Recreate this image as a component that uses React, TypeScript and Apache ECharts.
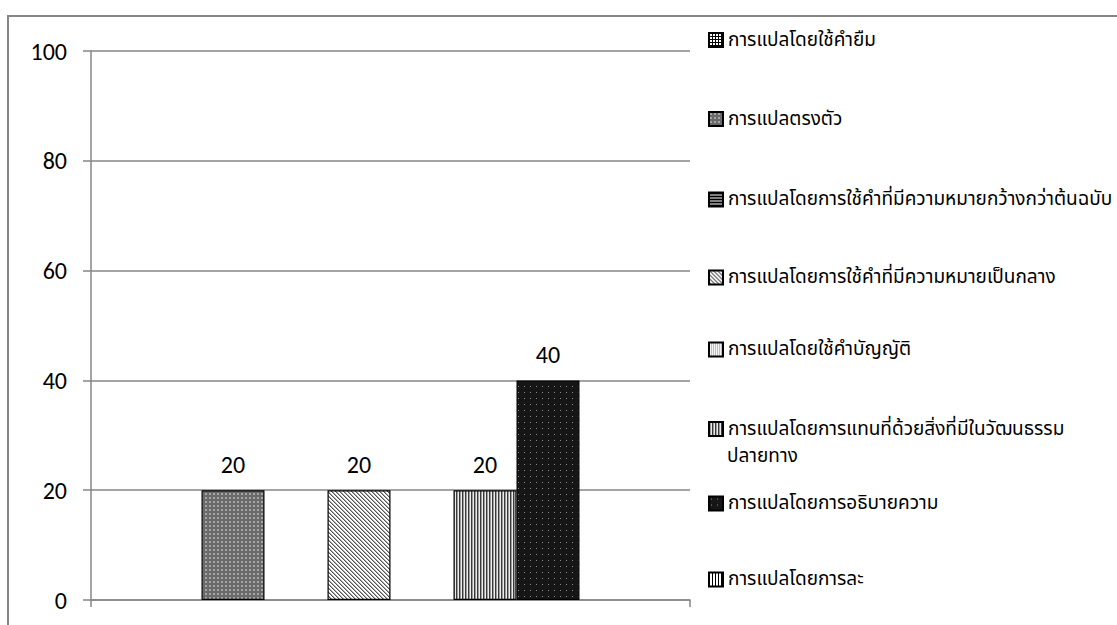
import React, { useEffect, useRef } from 'react';
import * as echarts from 'echarts';

const categories: string[] = [''];
const seriesNames: string[] = [
  'การแปลโดยใช้คำยืม',
  'การแปลตรงตัว',
  'การแปลโดยการใช้คำที่มีความหมายกว้างกว่าต้นฉบับ',
  'การแปลโดยการใช้คำที่มีความหมายเป็นกลาง',
  'การแปลโดยใช้คำบัญญัติ',
  'การแปลโดยการแทนที่ด้วยสิ่งที่มีในวัฒนธรรมปลายทาง',
  'การแปลโดยการอธิบายความ',
  'การแปลโดยการละ',
];
// legend wraps the 6th name onto two lines
const wrappedFirst = 'การแปลโดยการแทนที่ด้วยสิ่งที่มีในวัฒนธรรม';
const wrappedSecond = 'ปลายทาง';
const seriesValues: (number | null)[] = [null, 20, null, 20, null, 20, 40, null];
const yMin = 0;
const yMax = 100;
const yInterval = 20;

const thaiFont = "Tahoma, 'Noto Sans Thai', 'Leelawadee UI', 'Noto Sans', 'DejaVu Sans', sans-serif";
const numFont = "Carlito, Calibri, Lato, 'Open Sans', sans-serif";

function mk(w: number, h: number, draw: (ctx: CanvasRenderingContext2D) => void) {
  const c = document.createElement('canvas');
  c.width = w;
  c.height = h;
  const ctx = c.getContext('2d') as CanvasRenderingContext2D;
  draw(ctx);
  return { image: c, repeat: 'repeat', imageWidth: w, imageHeight: h } as any;
}

function px(ctx: CanvasRenderingContext2D, x: number, y: number, color: string, w = 1, h = 1) {
  ctx.fillStyle = color;
  ctx.fillRect(x, y, w, h);
}

function makePatterns() {
  return [
    // grid
    mk(3, 3, (c) => {
      px(c, 0, 0, '#fff', 3, 3);
      px(c, 0, 0, '#000', 3, 1);
      px(c, 0, 0, '#000', 1, 3);
    }),
    // gray with light dots
    mk(4, 4, (c) => {
      px(c, 0, 0, '#6a6a6a', 4, 4);
      px(c, 1, 1, '#a5a5a5', 2, 2);
    }),
    // horizontal lines
    mk(3, 3, (c) => {
      px(c, 0, 0, '#000', 3, 2);
      px(c, 0, 2, '#fff', 3, 1);
    }),
    // diagonal
    mk(4, 4, (c) => {
      px(c, 0, 0, '#ffffff', 4, 4);
      for (let k = 0; k < 4; k++) {
        px(c, k, k, '#555');
        px(c, (k + 1) % 4, k, '#aaa');
      }
    }),
    // light dotted
    mk(2, 2, (c) => {
      px(c, 0, 0, '#f2f2f2', 2, 2);
      px(c, 0, 0, '#8a8a8a');
    }),
    // vertical stripes (gray)
    mk(3, 1, (c) => {
      px(c, 0, 0, '#3a3a3a');
      px(c, 1, 0, '#9c9c9c');
      px(c, 2, 0, '#ececec');
    }),
    // black with dots
    mk(6, 6, (c) => {
      px(c, 0, 0, '#161616', 6, 6);
      px(c, 2, 2, '#8a8a8a');
    }),
    // vertical lines
    mk(3, 1, (c) => {
      px(c, 0, 0, '#000');
      px(c, 1, 0, '#fff', 2, 1);
    }),
  ];
}

const legendCenters = [40, 119, 199.5, 277.5, 349.5, 429, 503.5, 579.5];

export default function App() {
  const ref = useRef<HTMLDivElement>(null);
  useEffect(() => {
    if (!ref.current) return;
    const chart = echarts.init(ref.current, undefined, { renderer: 'svg' });
    const patterns = makePatterns();
    const axisColor = '#868686';
    const legendLH = 20;
    const legendFontSize = 19;
    const option: any = {
      animation: false,
      backgroundColor: '#ffffff',
      grid: { left: 91, right: 427, top: 51, bottom: 25, containLabel: false },
      xAxis: {
        type: 'category',
        data: categories,
        boundaryGap: true,
        axisLine: { show: true, lineStyle: { color: axisColor, width: 1.5 } },
        axisTick: { show: true, length: 7, lineStyle: { color: axisColor, width: 1.5 } },
        axisLabel: { show: false },
        splitLine: { show: false },
      },
      yAxis: {
        type: 'value',
        min: yMin,
        max: yMax,
        interval: yInterval,
        axisLine: { show: true, lineStyle: { color: axisColor, width: 1.5 } },
        axisTick: { show: true, length: 8, lineStyle: { color: axisColor, width: 1.5 } },
        axisLabel: { fontSize: 24, color: '#000', margin: 24, fontFamily: numFont },
        splitLine: { show: true, lineStyle: { color: axisColor, width: 1.5 } },
      },
      series: seriesNames.map((name, i) => ({
        type: 'bar',
        name,
        data: [seriesValues[i] === null ? '-' : seriesValues[i]],
        barWidth: 63,
        barGap: '0%',
        itemStyle: { color: patterns[i], borderColor: '#000', borderWidth: 1.2 },
        label: {
          show: true,
          position: 'top',
          distance: 14,
          fontSize: 24,
          color: '#000',
          fontFamily: numFont,
        },
      })),
      legend: seriesNames.map((name, i) => {
        const base: any = {
          data: [name],
          orient: 'vertical',
          left: 708,
          top: legendCenters[i] - legendLH / 2,
          padding: 0,
          itemWidth: 14,
          itemHeight: 14,
          itemGap: 0,
          icon: 'rect',
          selectedMode: false,
          textStyle: {
            fontFamily: thaiFont,
            fontSize: legendFontSize,
            color: '#000',
            lineHeight: legendLH,
          },
        };
        if (name === seriesNames[5]) {
          base.formatter = () => wrappedFirst;
        }
        return base;
      }),
      graphic: [
        {
          type: 'rect',
          silent: true,
          shape: { x: 8, y: 16, width: 1200, height: 700 },
          style: { fill: 'none', stroke: axisColor, lineWidth: 2 },
        },
        {
          type: 'text',
          silent: true,
          x: 727,
          y: legendCenters[5] + 27,
          style: {
            text: wrappedSecond,
            fontFamily: thaiFont,
            fontSize: legendFontSize,
            fill: '#000',
            verticalAlign: 'middle',
            align: 'left',
          },
        },
      ],
    };
    chart.setOption(option);
    return () => chart.dispose();
  }, []);
  return (
    <div
      ref={ref}
      style={{ position: 'absolute', left: 0, top: 0, width: 1117, height: 625, background: '#fff' }}
    />
  );
}
